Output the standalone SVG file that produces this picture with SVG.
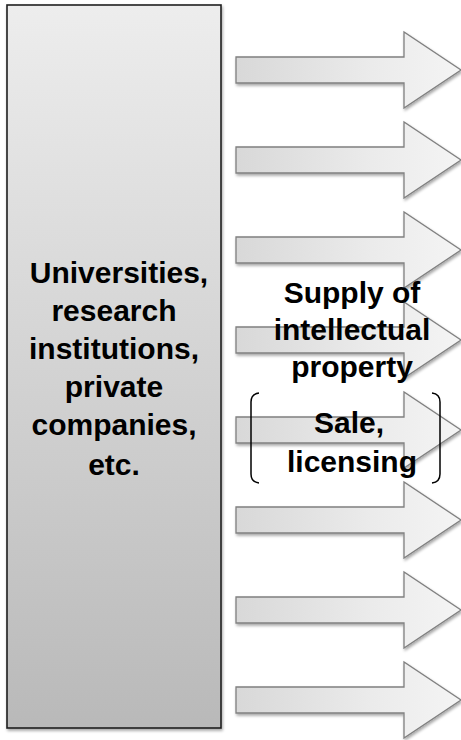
<svg xmlns="http://www.w3.org/2000/svg" width="461" height="740" viewBox="0 0 461 740">
<defs>
<linearGradient id="boxGrad" x1="0" y1="0" x2="0" y2="1">
<stop offset="0" stop-color="#ededed"/>
<stop offset="1" stop-color="#b9b9b9"/>
</linearGradient>
<linearGradient id="arrowGrad" x1="0" y1="0" x2="1" y2="0">
<stop offset="0" stop-color="#d8d8d8"/>
<stop offset="0.6" stop-color="#ebebeb"/>
<stop offset="1" stop-color="#f4f4f4"/>
</linearGradient>
<filter id="shadow" x="-10%" y="-10%" width="130%" height="130%">
<feGaussianBlur in="SourceAlpha" stdDeviation="1.5"/>
<feOffset dx="1" dy="2" result="b"/>
<feComponentTransfer><feFuncA type="linear" slope="0.35"/></feComponentTransfer>
<feMerge><feMergeNode/><feMergeNode in="SourceGraphic"/></feMerge>
</filter>
<path id="arrow" d="M236,-13 H404 V-38 L461,0 L404,38 V13 H236 Z"/>
</defs>
<style>
.box{fill:url(#boxGrad);stroke:#1e1e1e;stroke-width:1.6}
.arr{fill:url(#arrowGrad);stroke:#808080;stroke-width:1.3;stroke-linejoin:miter}
.t{font-family:"Liberation Sans",Arial,sans-serif;font-weight:bold;font-size:30px;fill:#000;text-anchor:middle}
.br{fill:none;stroke:#000;stroke-width:1.5}
</style>
<g id="source" filter="url(#shadow)">
<rect class="box" x="7" y="5" width="214" height="723"/>
</g>
<g id="connectors" filter="url(#shadow)">
<use href="#arrow" class="arr" transform="translate(0,70)"/>
<use href="#arrow" class="arr" transform="translate(0,160)"/>
<use href="#arrow" class="arr" transform="translate(0,250)"/>
<use href="#arrow" class="arr" transform="translate(0,340)"/>
<use href="#arrow" class="arr" transform="translate(0,430)"/>
<use href="#arrow" class="arr" transform="translate(0,520)"/>
<use href="#arrow" class="arr" transform="translate(0,610)"/>
<use href="#arrow" class="arr" transform="translate(0,700)"/>
</g>
<g id="source-label">
<text class="t" x="119" y="283">Universities,</text>
<text class="t" x="114" y="321">research</text>
<text class="t" x="114" y="359">institutions,</text>
<text class="t" x="114" y="397">private</text>
<text class="t" x="114" y="435">companies,</text>
<text class="t" x="114" y="475">etc.</text>
</g>
<g id="supply-label">
<text class="t" x="352" y="303">Supply of</text>
<text class="t" x="352" y="340">intellectual</text>
<text class="t" x="352" y="377">property</text>
</g>
<g id="sale-label">
<path class="br" d="M259,393 Q251,394 251,402 V474 Q251,482 259,483"/>
<path class="br" d="M432,393 Q440,394 440,402 V474 Q440,482 432,483"/>
<text class="t" x="349" y="433">Sale,</text>
<text class="t" x="352" y="472">licensing</text>
</g>
</svg>
